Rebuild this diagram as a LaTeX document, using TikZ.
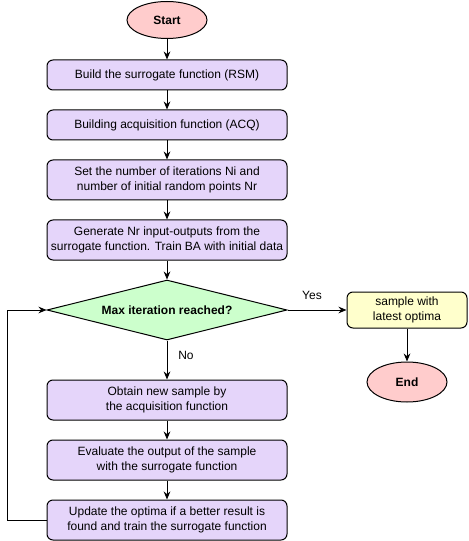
\documentclass[tikz,border=0pt]{standalone}
\usepackage{fontspec}
\setmainfont{Liberation Sans}
\usetikzlibrary{shapes.geometric,arrows.meta}
\definecolor{purp}{HTML}{E5D5FA}
\definecolor{pinkf}{HTML}{FFCCCC}
\definecolor{yell}{HTML}{FFFFCC}
\definecolor{grn}{HTML}{CCFFCC}
\begin{document}
\begin{tikzpicture}[x=0.75pt,y=-0.75pt,
  every node/.style={font=\fontsize{9pt}{11pt}\selectfont, align=center},
  procbox/.style={draw, line width=0.75pt, rounded corners=4.5pt, fill=purp, minimum width=180pt, inner sep=0pt},
  term/.style={draw, line width=0.75pt, ellipse, fill=pinkf, minimum width=60pt, inner sep=0pt},
  conn/.style={line width=0.75pt, -{Stealth[length=6pt,width=5pt]}}]
\useasboundingbox (0,0) rectangle (468,541);
\node[term, minimum height=27.75pt, font=\fontsize{9pt}{11pt}\selectfont\bfseries] (start) at (167,20) {Start};
\node[procbox, minimum height=22.5pt] (b1) at (167,75) {Build the surrogate function (RSM)};
\node[procbox, minimum height=22.5pt] (b2) at (167,125) {Building acquisition function (ACQ)};
\node[procbox, minimum height=30pt] (b3) at (167,180) {Set the number of iterations Ni and\\number of initial random points Nr};
\node[procbox, minimum height=30pt] (b4) at (167,240) {Generate Nr input-outputs from the\\surrogate function. Train BA with initial data};
\node[diamond, draw, line width=0.75pt, fill=grn, minimum width=180pt, minimum height=45pt, inner sep=0pt, aspect=4] (dec) at (167,310) {};
\node[font=\fontsize{9pt}{11pt}\selectfont\bfseries] at (dec) {Max iteration reached?};
\node[draw, line width=0.75pt, rounded corners=4.5pt, fill=yell, minimum width=90pt, minimum height=27pt, inner sep=0pt] (ys) at (407,310) {sample with\\latest optima};
\node[term, minimum height=30pt, font=\fontsize{9pt}{11pt}\selectfont\bfseries] (end) at (407,382) {End};
\node[procbox, minimum height=30pt] (b5) at (167,400) {Obtain new sample by\\the acquisition function};
\node[procbox, minimum height=30pt] (b6) at (167,460) {Evaluate the output of the sample\\with the surrogate function};
\node[procbox, minimum height=30pt] (b7) at (167,520) {Update the optima if a better result is\\found and train the surrogate function};
\coordinate (lp) at (7,520);
\draw[conn] (start) -- (b1);
\draw[conn] (b1) -- (b2);
\draw[conn] (b2) -- (b3);
\draw[conn] (b3) -- (b4);
\draw[conn] (b4) -- (dec);
\draw[conn] (dec) -- (ys);
\draw[conn] (ys) -- (end);
\draw[conn] (dec) -- (b5);
\draw[conn] (b5) -- (b6);
\draw[conn] (b6) -- (b7);
\draw[conn] (b7.west) -- (lp) |- (dec.west);
\node (yes) at (312,295) {Yes};
\node (no) at (186,355) {No};
\end{tikzpicture}
\end{document}
